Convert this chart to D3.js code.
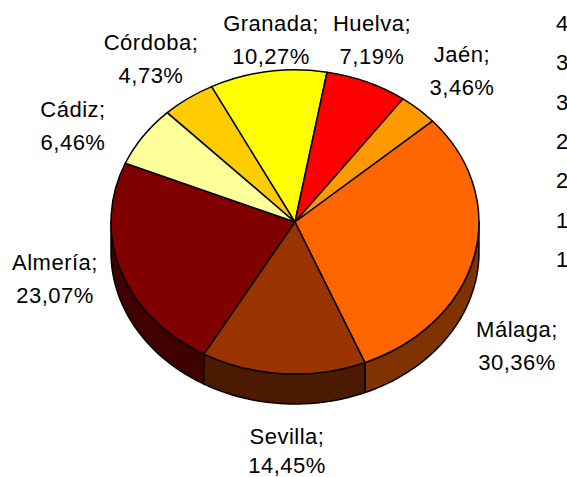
<!DOCTYPE html>
<html><head><meta charset="utf-8">
<script src="https://cdn.jsdelivr.net/npm/d3@7"></script>
<style>html,body{margin:0;padding:0;background:#fff;overflow:hidden}svg{display:block}</style>
</head><body>
<script>
const categories = ["Almería","Cádiz","Córdoba","Granada","Huelva","Jaén","Málaga","Sevilla"];
const values = [23.07, 6.46, 4.73, 10.27, 7.19, 3.46, 30.36, 14.45];
const valueLabels = ["23,07%","6,46%","4,73%","10,27%","7,19%","3,46%","30,36%","14,45%"];
const topColors = ["#800000","#FFFF99","#FFCC00","#FFFF00","#FF0000","#FF9900","#FF6600","#993300"];
const sideColors = ["#400000","#80804c","#806600","#808000","#800000","#804c00","#803300","#4c1a00"];
const rightTicks = ["4","3","3","2","2","1","1"];

const W = 567, H = 477;
const cx = 295, cy = 222, rx = 184, ry = 152, depth = 30;
const startDeg = 209.7;

const svg = d3.select("body").append("svg").attr("width", W).attr("height", H);

const pie = d3.pie().sort(null).value(d => d)
  .startAngle(startDeg * Math.PI / 180)
  .endAngle(startDeg * Math.PI / 180 + 2 * Math.PI);
const arcs = pie(values);

const px = a => cx + rx * Math.sin(a);
const py = a => cy - ry * Math.cos(a);
const line = d3.line();

// side walls (front half only)
const sideG = svg.append("g");
arcs.forEach((d, i) => {
  const segs = [];
  [0, 2 * Math.PI].forEach(off => {
    const s = Math.max(d.startAngle, Math.PI / 2 + off);
    const e = Math.min(d.endAngle, 3 * Math.PI / 2 + off);
    if (e > s) segs.push([s, e]);
  });
  segs.forEach(([s, e]) => {
    const n = 60;
    const angs = d3.range(n + 1).map(k => s + (e - s) * k / n);
    const pts = angs.map(a => [px(a), py(a)])
      .concat(angs.slice().reverse().map(a => [px(a), py(a) + depth]));
    sideG.append("path")
      .attr("d", line(pts) + "Z")
      .attr("fill", sideColors[i])
      .attr("stroke", "#000")
      .attr("stroke-width", 1.5)
      .attr("stroke-linejoin", "round");
  });
});

// top face
const arcGen = d3.arc().innerRadius(0).outerRadius(1);
svg.append("g")
  .attr("transform", `translate(${cx},${cy}) scale(${rx},${ry})`)
  .selectAll("path").data(arcs).join("path")
  .attr("d", arcGen)
  .attr("fill", (d, i) => topColors[i])
  .attr("stroke", "#000")
  .attr("stroke-width", 1.5)
  .attr("stroke-linejoin", "round")
  .attr("vector-effect", "non-scaling-stroke");

// labels
const labelPos = [
  [55, 270], [73, 117], [151, 50], [271, 31], [372, 31], [462, 62], [517, 337], [287, 444]
];
const lineGap = 33;
const fontFamily = "'Liberation Sans', Arial, sans-serif";
const fs = 22;
const lg = svg.append("g").attr("font-family", fontFamily).attr("font-size", fs)
  .attr("fill", "#000").attr("text-anchor", "middle").attr("letter-spacing", "0.5px");
categories.forEach((c, i) => {
  const t = lg.append("text").attr("x", labelPos[i][0]).attr("y", labelPos[i][1]);
  t.append("tspan").attr("x", labelPos[i][0]).text(c + ";");
  t.append("tspan").attr("x", labelPos[i][0]).attr("dy", i === 7 ? 29 : lineGap).text(valueLabels[i]);
});

// clipped ticks at right edge
const tickY = d3.scalePoint().domain(d3.range(rightTicks.length)).range([31, 267]);
svg.append("g").attr("font-family", fontFamily).attr("font-size", fs)
  .selectAll("text").data(rightTicks).join("text")
  .attr("x", 556).attr("y", (d, i) => tickY(i))
  .text(d => d);
</script>
</body></html>
